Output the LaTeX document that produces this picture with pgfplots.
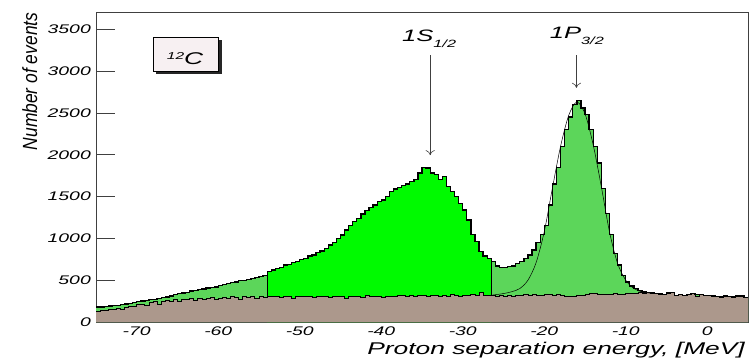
\documentclass[border=0pt]{standalone}
\usepackage{pgfplots}
\pgfplotsset{compat=1.18}
\usepackage{pgfplotstable}
\usepackage{fontspec}
\setmainfont{Liberation Sans}
\usetikzlibrary{calc,arrows.meta}
\definecolor{lgreen}{RGB}{92,214,90}
\definecolor{bgreen}{RGB}{0,250,0}
\definecolor{bgbrown}{RGB}{172,152,140}
\definecolor{boxfill}{RGB}{247,240,242}
\newcommand{\tl}[1]{\scalebox{1.55}[1]{\fontsize{12.5}{14}\selectfont\itshape #1}}

\pgfplotstableread{
x T B
-75.0 180 130
-74.5 180 135
-74.0 185 140
-73.5 190 150
-73.0 200 155
-72.5 195 160
-72.0 210 150
-71.5 215 175
-71.0 225 185
-70.5 230 190
-70.0 245 205
-69.5 250 215
-69.0 255 195
-68.5 265 230
-68.0 270 240
-67.5 280 215
-67.0 295 250
-66.5 300 255
-66.0 310 240
-65.5 325 265
-65.0 340 250
-64.5 345 270
-64.0 355 265
-63.5 370 280
-63.0 375 255
-62.5 390 285
-62.0 395 275
-61.5 405 280
-61.0 410 290
-60.5 420 270
-60.0 440 285
-59.5 445 290
-59.0 460 280
-58.5 470 300
-58.0 480 295
-57.5 495 270
-57.0 500 305
-56.5 510 290
-56.0 520 300
-55.5 530 280
-55.0 545 310
-54.5 560 295
-54.0 600 305
-53.5 620 300
-53.0 640 310
-52.5 655 295
-52.0 680 305
-51.5 690 300
-51.0 710 285
-50.5 720 305
-50.0 745 300
-49.5 760 310
-49.0 790 300
-48.5 800 290
-48.0 835 305
-47.5 850 310
-47.0 880 300
-46.5 920 295
-46.0 950 310
-45.5 1000 300
-45.0 1040 305
-44.5 1100 285
-44.0 1150 300
-43.5 1200 310
-43.0 1240 300
-42.5 1290 295
-42.0 1330 315
-41.5 1370 305
-41.0 1400 310
-40.5 1440 300
-40.0 1460 295
-39.5 1500 310
-39.0 1560 305
-38.5 1590 300
-38.0 1610 315
-37.5 1630 320
-37.0 1650 300
-36.5 1680 315
-36.0 1700 305
-35.5 1780 320
-35.0 1850 315
-34.5 1840 310
-34.0 1780 320
-33.5 1760 315
-33.0 1700 305
-32.5 1740 320
-32.0 1620 310
-31.5 1560 325
-31.0 1500 320
-30.5 1420 310
-30.0 1340 320
-29.5 1220 315
-29.0 1050 325
-28.5 960 320
-28.0 840 350
-27.5 790 315
-27.0 760 320
-26.5 720 315
-26.0 670 310
-25.5 650 320
-25.0 650 305
-24.5 660 315
-24.0 670 300
-23.5 700 320
-23.0 720 315
-22.5 760 325
-22.0 800 320
-21.5 860 330
-21.0 950 315
-20.5 1050 320
-20.0 1150 325
-19.5 1400 330
-19.0 1650 320
-18.5 1850 325
-18.0 2100 320
-17.5 2300 305
-17.0 2450 310
-16.5 2600 300
-16.0 2650 315
-15.5 2560 320
-15.0 2480 330
-14.5 2300 340
-14.0 2100 345
-13.5 1900 330
-13.0 1600 335
-12.5 1300 325
-12.0 1050 330
-11.5 820 340
-11.0 680 335
-10.5 560 330
-10.0 480 340
-9.5 430 345
-9.0 400 340
-8.5 380 355
-8.0 360 345
-7.5 355 350
-7.0 345 345
-6.5 340 340
-6.0 340 325
-5.5 330 330
-5.0 345 345
-4.5 355 355
-4.0 320 320
-3.5 330 330
-3.0 320 320
-2.5 325 325
-2.0 340 340
-1.5 325 310
-1.0 325 325
-0.5 320 320
0.0 315 315
0.5 310 310
1.0 305 305
1.5 300 300
2.0 310 310
2.5 305 305
3.0 300 300
3.5 310 310
4.0 310 300
4.5 295 295
5.0 295 295
}\hist

\begin{document}
\begin{tikzpicture}
\begin{axis}[
  name=ax,
  scale only axis,
  width=652pt, height=309.5pt,
  xmin=-75, xmax=5, ymin=0, ymax=3700,
  axis line style={draw=black!75, line width=0.8pt},
  tick align=inside,
  ytick pos=left, xtick pos=bottom,
  major tick length=19pt,
  tick style={draw=black!75, line width=0.7pt},
  xtick={-70,-60,-50,-40,-30,-20,-10,0},
  xticklabels={{\tl{-70}},{\tl{-60}},{\tl{-50}},{\tl{-40}},{\tl{-30}},{\tl{-20}},{\tl{-10}},{\tl{0}}},
  ytick={0,500,1000,1500,2000,2500,3000,3500},
  yticklabels={{\tl{0}},{\tl{500}},{\tl{1000}},{\tl{1500}},{\tl{2000}},{\tl{2500}},{\tl{3000}},{\tl{3500}}},
  yticklabel style={anchor=east, inner sep=0pt, xshift=-5pt},
  xticklabel style={anchor=north, inner sep=0pt, yshift=-5pt},
]
\addplot[const plot, fill=lgreen, draw=none] table[x=x, y=T] {\hist} \closedcycle;
\addplot[const plot, fill=bgreen, draw=none, restrict x to domain=-54:-26.5] table[x=x, y=T] {\hist} \closedcycle;
\addplot[const plot, fill=bgbrown, draw=none] table[x=x, y=B] {\hist} \closedcycle;
\addplot[const plot, black, line width=0.9pt] table[x=x, y=B] {\hist};
\addplot[const plot, black, line width=1.3pt] table[x=x, y=T] {\hist};
\addplot[black, line width=1.1pt] coordinates {(-54,305) (-54,600)};
\addplot[black, line width=1.1pt] coordinates {(-26.5,315) (-26.5,720)};
\addplot[black, line width=0.5pt, smooth] coordinates {
(-26.5,320) (-25,340) (-24,362) (-23,400) (-22,500) (-21,710) (-20,1080)
(-19,1600) (-18,2100) (-17,2470) (-16,2630) (-15,2490) (-14,2120)
(-13,1620) (-12,1080) (-11,700) (-10,500) (-9,400) (-8,360) (-7,345)};
% 12C box
\fill[black!85] (axis cs:-67.6,2964) rectangle (axis cs:-59.6,3369);
\draw[black, line width=0.6pt, fill=boxfill] (axis cs:-68,3000) rectangle (axis cs:-60,3405);
\node[inner sep=0pt] at (axis cs:-64.07,3150) {\scalebox{1.55}[1]{\itshape\raisebox{5pt}{\fontsize{10}{12}\selectfont 12}\fontsize{17}{20}\selectfont C}};
% peak labels
\node[anchor=base west, inner sep=0pt] at (axis cs:-37.46,3352) {\scalebox{1.55}[1]{\itshape\fontsize{16.5}{18}\selectfont 1S\raisebox{-6pt}{\fontsize{10.5}{12}\selectfont 1/2}}};
\node[anchor=base west, inner sep=0pt] at (axis cs:-19.33,3393) {\scalebox{1.55}[1]{\itshape\fontsize{16.5}{18}\selectfont 1P\raisebox{-6pt}{\fontsize{10.5}{12}\selectfont 3/2}}};
\draw[black!75, line width=0.6pt, -{To[length=5pt,width=9pt]}] (axis cs:-34,3190) -- (axis cs:-34,1995);
\draw[black!75, line width=0.6pt, -{To[length=5pt,width=9pt]}] (axis cs:-16.05,3190) -- (axis cs:-16.05,2800);
\end{axis}
\node[anchor=base east, inner sep=0pt] at ($(ax.south east)+(-3pt,-32pt)$) {\scalebox{1.55}[1]{\itshape\fontsize{17}{20}\selectfont Proton separation energy, [MeV]}};
\node[anchor=base east, rotate=90, inner sep=0pt] at ($(ax.north west)+(-59pt,0pt)$) {\scalebox{0.85}[1]{\itshape\fontsize{20.5}{24}\selectfont Number of events}};
\pgfresetboundingbox
\path ($(ax.south west)+(-96pt,-39pt)$) rectangle ($(ax.north east)+(1pt,12.5pt)$);
\end{tikzpicture}
\end{document}
